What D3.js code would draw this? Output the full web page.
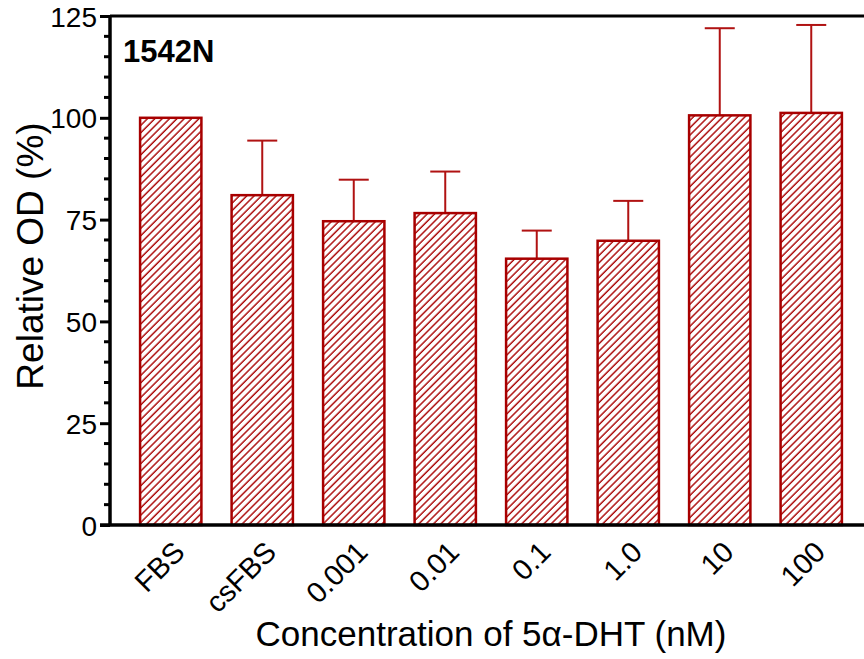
<!DOCTYPE html>
<meta charset="utf-8">
<script src="https://cdnjs.cloudflare.com/ajax/libs/d3/7.8.5/d3.min.js"></script>
<style>
body { margin: 0; background: #fff; }
text { font-family: "Liberation Sans", Arial, sans-serif; }
</style>
<body>
<script>
// data
var groups = ["FBS", "csFBS", "0.001", "0.01", "0.1", "1.0", "10", "100"];
var means  = [100, 81.0, 74.6, 76.6, 65.4, 69.8, 100.6, 101.2];
var errTop = [100, 94.4, 84.8, 86.8, 72.3, 79.6, 122.0, 122.8];
var yTicks = [0, 25, 50, 75, 100, 125];

var w = 864, h = 659;
var red = "#a80000";

var svg = d3.select("body").append("svg")
    .attr("width", w)
    .attr("height", h);

// hatch pattern
var sp = 5.2;
var pat = svg.append("defs").append("pattern")
    .attr("id", "hatch")
    .attr("patternUnits", "userSpaceOnUse")
    .attr("width", sp)
    .attr("height", sp)
    .attr("patternTransform", "rotate(45)");
pat.append("rect").attr("width", sp).attr("height", sp).attr("fill", "white");
pat.append("line")
    .attr("x1", 1).attr("y1", 0).attr("x2", 1).attr("y2", sp)
    .attr("stroke", red).attr("stroke-width", 1.4);

//scales
var xScale = d3.scaleBand()
    .domain(groups)
    .range([125, 857])
    .paddingInner(0.33)
    .paddingOuter(0.165);

var yScale = d3.scaleLinear()
    .domain([0, 125])
    .range([525, 16]);

var x0 = 110;

// top frame line
svg.append("line")
    .attr("x1", x0).attr("x2", w + 5)
    .attr("y1", yScale(125)).attr("y2", yScale(125))
    .attr("stroke", "black").attr("stroke-width", 3);

// error bars (upper only)
var eb = svg.append("g").attr("stroke", "#b01212").attr("stroke-width", 2);
groups.forEach(function(g, i) {
  if (errTop[i] <= means[i]) return;
  var cx = xScale(g) + xScale.bandwidth() / 2;
  eb.append("line")
    .attr("x1", cx).attr("x2", cx)
    .attr("y1", yScale(means[i])).attr("y2", yScale(errTop[i]));
  eb.append("line")
    .attr("x1", cx - 15).attr("x2", cx + 15)
    .attr("y1", yScale(errTop[i])).attr("y2", yScale(errTop[i]));
});

// bars
svg.selectAll("rect.bar").data(means).enter().append("rect")
    .attr("class", "bar")
    .attr("x", function(d, i) { return xScale(groups[i]); })
    .attr("y", function(d) { return yScale(d); })
    .attr("width", xScale.bandwidth())
    .attr("height", function(d) { return yScale(0) - yScale(d); })
    .attr("fill", "url(#hatch)")
    .attr("stroke", red)
    .attr("stroke-width", 2.5);

// y axis
var yAxis = d3.axisLeft(yScale)
    .tickValues(yTicks)
    .tickSize(10)
    .tickPadding(3);
var gy = svg.append("g")
    .attr("transform", "translate(" + x0 + ",0)")
    .call(yAxis);
gy.select(".domain").attr("stroke-width", 3.5).attr("d", "M0," + yScale(0) + "V" + yScale(125));
gy.selectAll(".tick line").attr("stroke-width", 3);
gy.selectAll(".tick text")
    .style("font-size", "28px")
    .attr("fill", "black")
    .attr("dy", "0.36em");

// minor ticks
var minor = d3.range(0, 126, 5).filter(function(v) { return v % 25 != 0; });
gy.selectAll(".minor").data(minor).enter().append("line")
    .attr("class", "minor")
    .attr("x1", -6).attr("x2", 0)
    .attr("y1", function(d) { return yScale(d); })
    .attr("y2", function(d) { return yScale(d); })
    .attr("stroke", "black").attr("stroke-width", 3);

// x axis line
svg.append("line")
    .attr("x1", x0 - 10).attr("x2", w + 5)
    .attr("y1", yScale(0)).attr("y2", yScale(0))
    .attr("stroke", "black").attr("stroke-width", 3.5);

// x tick labels
svg.selectAll("text.xlab").data(groups).enter().append("text")
    .attr("class", "xlab")
    .attr("transform", function(d) {
      var cx = xScale(d) + xScale.bandwidth() / 2 + 1;
      return "translate(" + cx + ",539) rotate(-45)";
    })
    .attr("text-anchor", "end")
    .attr("dy", "0.72em")
    .style("font-size", "29px")
    .text(function(d) { return d; });

// axis titles
svg.append("text")
    .attr("transform", "rotate(-90)")
    .attr("x", -256)
    .attr("y", 43)
    .attr("text-anchor", "middle")
    .style("font-size", "37px")
    .text("Relative OD (%)");

svg.append("text")
    .attr("x", 491)
    .attr("y", 646)
    .attr("text-anchor", "middle")
    .style("font-size", "35px")
    .text("Concentration of 5α-DHT (nM)");

// panel label
svg.append("text")
    .attr("x", 123)
    .attr("y", 62)
    .style("font-size", "31px")
    .style("font-weight", "bold")
    .text("1542N");
</script>
</body>
